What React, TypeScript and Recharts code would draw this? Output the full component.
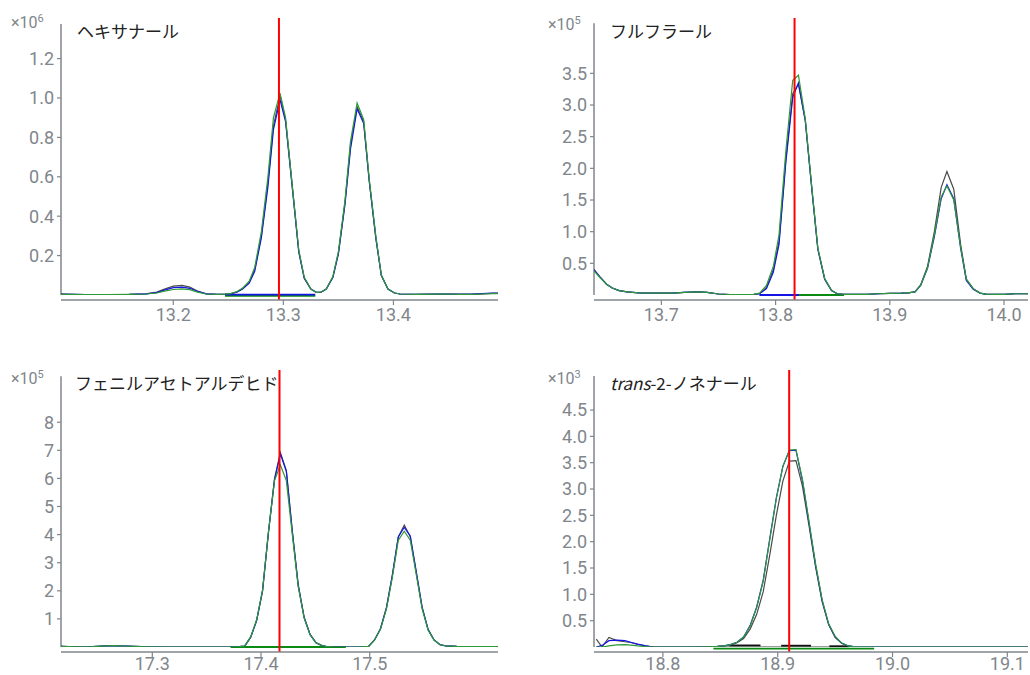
import React from 'react';
import { LineChart, Line, XAxis, YAxis, ReferenceLine } from 'recharts';

// ヘキサナール (×10^6)
const hexTime = [
  13.098, 13.12, 13.14, 13.16, 13.175, 13.185, 13.192, 13.2, 13.208, 13.215, 13.222, 13.23, 13.24, 13.247,
  13.252, 13.258, 13.263, 13.269, 13.274, 13.28, 13.286, 13.291, 13.297, 13.302, 13.308, 13.314, 13.319, 13.325, 13.33, 13.334,
  13.339, 13.345, 13.35, 13.356, 13.361, 13.367, 13.373, 13.378, 13.384, 13.389, 13.395, 13.401, 13.406,
  13.42, 13.44, 13.45, 13.46, 13.47, 13.48, 13.49, 13.495,
];
const hexBlack = [
  0.004, 0.002, 0.002, 0.003, 0.006, 0.015, 0.03, 0.045, 0.049, 0.04, 0.02, 0.006, 0.003, 0.004,
  0.006, 0.016, 0.032, 0.065, 0.13, 0.3, 0.57, 0.86, 1.01, 0.89, 0.56, 0.22, 0.085, 0.03, 0.013, 0.014,
  0.03, 0.09, 0.21, 0.47, 0.76, 0.955, 0.88, 0.58, 0.29, 0.1, 0.03, 0.01, 0.005,
  0.003, 0.004, 0.005, 0.003, 0.003, 0.006, 0.008, 0.008,
];
const hexBlue = [
  0.004, 0.002, 0.002, 0.003, 0.006, 0.012, 0.025, 0.037, 0.04, 0.034, 0.018, 0.006, 0.003, 0.004,
  0.006, 0.015, 0.03, 0.06, 0.12, 0.29, 0.55, 0.84, 0.99, 0.88, 0.55, 0.22, 0.085, 0.03, 0.013, 0.013,
  0.03, 0.09, 0.21, 0.46, 0.74, 0.945, 0.87, 0.58, 0.29, 0.1, 0.03, 0.01, 0.005,
  0.003, 0.004, 0.005, 0.004, 0.004, 0.007, 0.01, 0.01,
];
const hexGreen = [
  0.003, 0.002, 0.002, 0.003, 0.005, 0.01, 0.02, 0.028, 0.031, 0.027, 0.015, 0.005, 0.003, 0.004,
  0.007, 0.018, 0.035, 0.07, 0.14, 0.32, 0.6, 0.9, 1.025, 0.9, 0.56, 0.23, 0.09, 0.03, 0.013, 0.014,
  0.03, 0.095, 0.22, 0.48, 0.78, 0.975, 0.89, 0.59, 0.3, 0.1, 0.03, 0.01, 0.005,
  0.003, 0.004, 0.005, 0.003, 0.003, 0.005, 0.007, 0.007,
];
const hexXTicks = [13.2, 13.3, 13.4];
const hexYTicks = [0.2, 0.4, 0.6, 0.8, 1.0, 1.2];
const hexRT = 13.296;
const hexBaselines = [
  { trace: 'green', from: 13.247, to: 13.329, level: -0.004 },
  { trace: 'blue', from: 13.247, to: 13.329, level: 0.002 },
];

// フルフラール (×10^5)
const furTime = [
  13.641, 13.646, 13.652, 13.657, 13.663, 13.67, 13.68, 13.69, 13.7, 13.71, 13.72, 13.732, 13.74, 13.75, 13.76, 13.77, 13.775,
  13.781, 13.786, 13.792, 13.798, 13.803, 13.809, 13.815, 13.82, 13.826, 13.832, 13.837, 13.843, 13.849, 13.854, 13.86,
  13.87, 13.88, 13.89, 13.9, 13.91,
  13.916, 13.922, 13.927, 13.933, 13.939, 13.945, 13.95, 13.956, 13.962, 13.967, 13.973, 13.979, 13.984, 13.99,
  14.0, 14.01, 14.021,
];
const furBlack = [
  0.4, 0.29, 0.17, 0.11, 0.07, 0.05, 0.035, 0.03, 0.03, 0.03, 0.04, 0.05, 0.04, 0.016, 0.008, 0.006, 0.008,
  0.01, 0.02, 0.12, 0.4, 0.85, 2.15, 3.18, 3.33, 2.76, 1.63, 0.73, 0.25, 0.07, 0.02, 0.01,
  0.01, 0.01, 0.02, 0.026, 0.03,
  0.035, 0.05, 0.16, 0.45, 1.0, 1.7, 1.95, 1.67, 0.8, 0.25, 0.1, 0.03, 0.015, 0.01,
  0.01, 0.02, 0.02,
];
const furBlue = [
  0.4, 0.29, 0.17, 0.11, 0.07, 0.05, 0.035, 0.03, 0.03, 0.03, 0.04, 0.05, 0.04, 0.016, 0.008, 0.006, 0.008,
  0.01, 0.02, 0.1, 0.36, 0.8, 2.1, 3.12, 3.35, 2.75, 1.62, 0.72, 0.25, 0.07, 0.02, 0.01,
  0.01, 0.01, 0.02, 0.026, 0.03,
  0.035, 0.05, 0.15, 0.42, 0.92, 1.52, 1.74, 1.52, 0.74, 0.23, 0.09, 0.03, 0.015, 0.01,
  0.01, 0.02, 0.02,
];
const furGreen = [
  0.38, 0.28, 0.17, 0.11, 0.07, 0.05, 0.035, 0.03, 0.03, 0.03, 0.04, 0.05, 0.04, 0.016, 0.008, 0.006, 0.008,
  0.01, 0.03, 0.15, 0.45, 0.95, 2.28, 3.39, 3.47, 2.78, 1.65, 0.74, 0.26, 0.07, 0.02, 0.01,
  0.01, 0.01, 0.02, 0.026, 0.03,
  0.035, 0.05, 0.15, 0.43, 0.95, 1.55, 1.72, 1.5, 0.76, 0.25, 0.1, 0.03, 0.015, 0.01,
  0.01, 0.02, 0.02,
];
const furXTicks = [13.7, 13.8, 13.9, 14.0];
const furYTicks = [0.5, 1.0, 1.5, 2.0, 2.5, 3.0, 3.5];
const furRT = 13.8166;
const furBaselines = [
  { trace: 'green', from: 13.786, to: 13.86, level: 0.0 },
  { trace: 'blue', from: 13.786, to: 13.8204, level: 0.0 },
];

// フェニルアセトアルデヒド (×10^5)
const phaTime = [
  17.216, 17.23, 17.245, 17.258, 17.265, 17.275, 17.29, 17.31, 17.34, 17.37, 17.38,
  17.385, 17.3905, 17.396, 17.4014, 17.4069, 17.4124, 17.4178, 17.4233, 17.4288, 17.4342, 17.4397, 17.4451, 17.4506, 17.456, 17.4615,
  17.47, 17.48, 17.49,
  17.4989, 17.5044, 17.5099, 17.5154, 17.5208, 17.5263, 17.5318, 17.5373, 17.5428, 17.5482, 17.5537, 17.5592, 17.5647, 17.57,
  17.58, 17.59, 17.6, 17.618,
];
const phaBlack = [
  0.02, 0.005, 0.01, 0.04, 0.05, 0.035, 0.01, 0.0, 0.0, 0.0, 0.01,
  0.03, 0.35, 0.95, 2.0, 4.1, 5.98, 6.92, 6.28, 4.12, 2.22, 1.05, 0.45, 0.15, 0.05, 0.01,
  0.0, 0.0, 0.0,
  0.02, 0.25, 0.65, 1.4, 2.55, 3.92, 4.34, 3.92, 2.65, 1.4, 0.62, 0.25, 0.08, 0.04,
  0.02, 0.015, 0.015, 0.015,
];
const phaBlue = [
  0.02, 0.005, 0.01, 0.04, 0.05, 0.035, 0.01, 0.0, 0.0, 0.0, 0.01,
  0.03, 0.35, 0.95, 2.0, 4.1, 5.95, 6.87, 6.25, 4.1, 2.2, 1.05, 0.45, 0.15, 0.05, 0.01,
  0.0, 0.0, 0.0,
  0.02, 0.25, 0.65, 1.4, 2.55, 3.92, 4.26, 3.95, 2.68, 1.42, 0.63, 0.25, 0.08, 0.04,
  0.02, 0.015, 0.015, 0.015,
];
const phaGreen = [
  0.02, 0.005, 0.01, 0.04, 0.05, 0.035, 0.01, 0.0, 0.0, 0.0, 0.01,
  0.03, 0.36, 0.97, 2.02, 4.12, 5.92, 6.48, 5.92, 4.0, 2.15, 1.03, 0.44, 0.15, 0.05, 0.01,
  0.0, 0.0, 0.0,
  0.02, 0.24, 0.63, 1.36, 2.48, 3.8, 4.12, 3.8, 2.58, 1.36, 0.6, 0.24, 0.08, 0.04,
  0.02, 0.015, 0.015, 0.015,
];
const phaXTicks = [17.3, 17.4, 17.5];
const phaYTicks = [1, 2, 3, 4, 5, 6, 7, 8];
const phaRT = 17.417;
const phaBaselines = [{ trace: 'green', from: 17.372, to: 17.478, level: 0.0 }];

// trans-2-ノネナール (×10^3)
const nonTime = [
  18.742, 18.747, 18.753, 18.76, 18.767, 18.772, 18.778, 18.785, 18.792, 18.81, 18.825, 18.84,
  18.8475, 18.8532, 18.8589, 18.8646, 18.8703, 18.876, 18.8817, 18.8874, 18.8931, 18.8988, 18.9045,
  18.9102, 18.9159, 18.9216, 18.9273, 18.933, 18.9387, 18.9444, 18.9501, 18.9558, 18.9615, 18.9672,
  18.98, 19.0, 19.05, 19.118,
];
const nonBlack = [
  0.15, 0.0, 0.18, 0.12, 0.1, 0.085, 0.05, 0.02, 0.0, 0.0, 0.0, 0.004,
  0.01, 0.02, 0.04, 0.08, 0.16, 0.34, 0.62, 1.05, 1.75, 2.5, 3.15,
  3.53, 3.54, 3.05, 2.3, 1.52, 0.86, 0.42, 0.18, 0.07, 0.02, 0.005,
  0.0, 0.0, 0.0, 0.0,
];
const nonBlue = [
  0.0, 0.03, 0.12, 0.13, 0.12, 0.09, 0.055, 0.02, 0.0, 0.0, 0.0, 0.005,
  0.01, 0.02, 0.045, 0.09, 0.19, 0.41, 0.76, 1.27, 2.06, 2.83, 3.43,
  3.73, 3.74, 3.15, 2.35, 1.55, 0.88, 0.43, 0.19, 0.07, 0.02, 0.005,
  0.0, 0.0, 0.0, 0.0,
];
const nonGreen = [
  0.0, 0.0, 0.02, 0.04, 0.045, 0.035, 0.02, 0.008, 0.0, 0.0, 0.0, 0.005,
  0.01, 0.02, 0.045, 0.09, 0.19, 0.4, 0.75, 1.25, 2.04, 2.82, 3.43,
  3.74, 3.75, 3.18, 2.38, 1.58, 0.9, 0.44, 0.2, 0.075, 0.02, 0.005,
  0.0, 0.0, 0.0, 0.0,
];
const nonXTicks = [18.8, 18.9, 19.0, 19.1];
const nonYTicks = [0.5, 1.0, 1.5, 2.0, 2.5, 3.0, 3.5, 4.0, 4.5];
const nonRT = 18.91;
const nonBaselines = [
  { trace: 'green', from: 18.844, to: 18.984, level: -0.03 },
  { trace: 'gray', from: 18.844, to: 18.966, level: 0.01 },
  { trace: 'black', from: 18.858, to: 18.885, level: 0.03 },
  { trace: 'black', from: 18.903, to: 18.929, level: 0.025 },
  { trace: 'black', from: 18.945, to: 18.962, level: 0.015 },
];

const AXIS = '#80868b';
const FONT = 'Roboto, "Noto Sans", sans-serif';
const JP_FONT = '"Noto Sans CJK JP", "Noto Sans", sans-serif';
const TRACE_COLORS: Record<string, string> = {
  black: '#4a4a4a',
  blue: '#1515e6',
  green: '#2f9a35',
  gray: '#9a9a9a',
};
const BASELINE_COLORS: Record<string, string> = {
  black: '#111111',
  blue: '#1515e6',
  green: '#0a8a12',
  gray: '#9a9a9a',
};

type Baseline = { trace: string; from: number; to: number; level: number };

interface PanelProps {
  left: number;
  top: number;
  yAxisWidth: number;
  marginRight: number;
  xLabelGap: number;
  time: number[];
  black: number[];
  blue: number[];
  green: number[];
  xDomain: [number, number];
  yMax: number;
  yAxisTop: number;
  xTicks: number[];
  yTicks: number[];
  yDigits: number;
  rt: number;
  baselines: Baseline[];
  title: React.ReactNode;
  titleLeft: number;
  titleTop: number;
  exponent: string;
  expLeft: number;
  expTop: number;
}

const Panel: React.FC<PanelProps> = (p) => {
  const rows = p.time.map((t, i) => ({ t, black: p.black[i], blue: p.blue[i], green: p.green[i] }));
  const tick = { fontSize: 18, fill: AXIS, fontFamily: FONT };
  return (
    <div style={{ position: 'absolute', left: p.left, top: p.top, width: 515, height: 330 }}>
      <LineChart
        width={515}
        height={330}
        data={rows}
        margin={{ top: 18, right: p.marginRight, bottom: 2, left: 0 }}
      >
        <XAxis
          type="number"
          dataKey="t"
          domain={p.xDomain}
          allowDataOverflow
          ticks={p.xTicks}
          interval={0}
          tickFormatter={(v: number) => v.toFixed(1)}
          height={28}
          tickSize={5}
          tickMargin={p.xLabelGap}
          tick={tick}
          axisLine={{ stroke: AXIS, strokeWidth: 1.5 }}
          tickLine={{ stroke: AXIS, strokeWidth: 1.2 }}
        />
        <YAxis
          type="number"
          domain={[0, p.yMax]}
          allowDataOverflow
          ticks={p.yTicks}
          interval={0}
          tickFormatter={(v: number) => v.toFixed(p.yDigits)}
          width={p.yAxisWidth}
          padding={{ top: 0, bottom: 5 }}
          tickSize={4}
          tickMargin={3}
          tick={tick}
          axisLine={false}
          tickLine={{ stroke: AXIS, strokeWidth: 1.2 }}
        />
        <ReferenceLine
          segment={[
            { x: p.xDomain[0], y: 0 },
            { x: p.xDomain[0], y: p.yAxisTop },
          ]}
          stroke={AXIS}
          strokeWidth={1.5}
        />
        {p.baselines.map((b, i) => (
          <ReferenceLine
            key={i}
            segment={[
              { x: b.from, y: b.level },
              { x: b.to, y: b.level },
            ]}
            stroke={BASELINE_COLORS[b.trace]}
            strokeWidth={b.trace === 'gray' ? 1 : 1.8}
            ifOverflow="visible"
          />
        ))}
        <Line type="linear" dataKey="black" stroke={TRACE_COLORS.black} strokeWidth={1.2} dot={false} isAnimationActive={false} />
        <Line type="linear" dataKey="blue" stroke={TRACE_COLORS.blue} strokeWidth={1.2} dot={false} isAnimationActive={false} />
        <Line type="linear" dataKey="green" stroke={TRACE_COLORS.green} strokeWidth={1.2} dot={false} isAnimationActive={false} />
        <ReferenceLine x={p.rt} stroke="#ff0000" strokeWidth={2} />
      </LineChart>
      <div
        style={{
          position: 'absolute',
          left: p.titleLeft,
          top: p.titleTop,
          fontFamily: JP_FONT,
          fontSize: 17,
          lineHeight: '20px',
          color: '#222',
          whiteSpace: 'nowrap',
        }}
      >
        {p.title}
      </div>
      <div
        style={{
          position: 'absolute',
          left: p.expLeft,
          top: p.expTop,
          fontFamily: FONT,
          fontSize: 16,
          lineHeight: '18px',
          color: AXIS,
          whiteSpace: 'nowrap',
        }}
      >
        ×10<sup style={{ fontSize: 11 }}>{p.exponent}</sup>
      </div>
    </div>
  );
};

export default function App() {
  return (
    <div style={{ position: 'absolute', left: 0, top: 0, width: 1030, height: 675, background: '#fff', overflow: 'hidden' }}>
      <Panel
        left={0}
        top={0}
        yAxisWidth={61}
        marginRight={17}
        xLabelGap={3}
        time={hexTime}
        black={hexBlack}
        blue={hexBlue}
        green={hexGreen}
        xDomain={[13.098, 13.495]}
        yMax={1.406}
        yAxisTop={1.376}
        xTicks={hexXTicks}
        yTicks={hexYTicks}
        yDigits={1}
        rt={hexRT}
        baselines={hexBaselines}
        title="ヘキサナール"
        titleLeft={77}
        titleTop={21}
        exponent="6"
        expLeft={11}
        expTop={10}
      />
      <Panel
        left={515}
        top={0}
        yAxisWidth={79}
        marginRight={2}
        xLabelGap={3}
        time={furTime}
        black={furBlack}
        blue={furBlue}
        green={furGreen}
        xDomain={[13.641, 14.021]}
        yMax={4.374}
        yAxisTop={4.29}
        xTicks={furXTicks}
        yTicks={furYTicks}
        yDigits={1}
        rt={furRT}
        baselines={furBaselines}
        title="フルフラール"
        titleLeft={95}
        titleTop={21}
        exponent="5"
        expLeft={33}
        expTop={12}
      />
      <Panel
        left={0}
        top={352}
        yAxisWidth={61}
        marginRight={17}
        xLabelGap={0}
        time={phaTime}
        black={phaBlack}
        blue={phaBlue}
        green={phaGreen}
        xDomain={[17.216, 17.618]}
        yMax={9.858}
        yAxisTop={9.64}
        xTicks={phaXTicks}
        yTicks={phaYTicks}
        yDigits={0}
        rt={phaRT}
        baselines={phaBaselines}
        title="フェニルアセトアルデヒド"
        titleLeft={75}
        titleTop={21}
        exponent="5"
        expLeft={11}
        expTop={14}
      />
      <Panel
        left={515}
        top={352}
        yAxisWidth={79}
        marginRight={2}
        xLabelGap={0}
        time={nonTime}
        black={nonBlack}
        blue={nonBlue}
        green={nonGreen}
        xDomain={[18.74, 19.118]}
        yMax={5.26}
        yAxisTop={5.145}
        xTicks={nonXTicks}
        yTicks={nonYTicks}
        yDigits={1}
        rt={nonRT}
        baselines={nonBaselines}
        title={
          <span>
            <i>trans</i>-2-ノネナール
          </span>
        }
        titleLeft={95}
        titleTop={21}
        exponent="3"
        expLeft={33}
        expTop={14}
      />
    </div>
  );
}
